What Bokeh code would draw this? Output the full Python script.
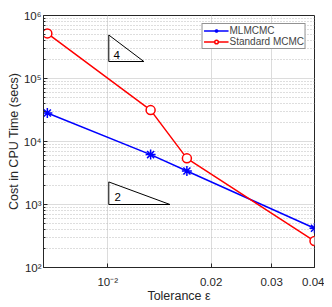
from bokeh.plotting import figure
from bokeh.models import FixedTicker, Range1d, Label
from bokeh.embed import file_html
from bokeh.resources import INLINE

# ---- data ----
tol = [0.00667, 0.01333, 0.017, 0.04]
cost_mlmcmc = [2.83e4, 6.2e3, 3.4e3, 420]
cost_mcmc = [5.2e5, 3.15e4, 5.4e3, 263]

x_ticks = [0.01, 0.02, 0.03, 0.04]
x_tick_labels = ["10⁻²", "0.02", "0.03", "0.04"]
y_ticks = [100, 1000, 10000, 100000, 1000000]
y_tick_labels = ["10²", "10³", "10⁴", "10⁵", "10⁶"]
y_minor = [k * 10 ** e for e in range(2, 6) for k in range(2, 10)]

# slope triangles (annotations)
tri4_x = [0.01007, 0.01007, 0.01274]
tri4_y = [4.9e5, 1.86e5, 1.86e5]
tri4_label = ("4", 0.01062, 2.38e5)
tri2_x = [0.01007, 0.01007, 0.01518]
tri2_y = [2280, 1000, 1000]
tri2_label = ("2", 0.01069, 1333)

FONT = "Liberation Sans"
DARK = "#262626"

p = figure(x_axis_type="log", y_axis_type="log",
           width=324, height=305,
           min_border_left=43, min_border_right=10,
           min_border_top=15, min_border_bottom=33,
           x_range=Range1d(0.0065, 0.04), y_range=Range1d(1e2, 1e6),
           output_backend="svg", toolbar_location=None)

p.outline_line_color = DARK
p.outline_line_width = 1

p.xaxis.ticker = FixedTicker(ticks=x_ticks, minor_ticks=[])
p.yaxis.ticker = FixedTicker(ticks=y_ticks, minor_ticks=y_minor)
p.xaxis.major_label_overrides = dict(zip(x_ticks, x_tick_labels))
p.yaxis.major_label_overrides = dict(zip(y_ticks, y_tick_labels))

for ax in (p.xaxis[0], p.yaxis[0]):
    ax.axis_line_color = DARK
    ax.major_tick_line_color = DARK
    ax.minor_tick_line_color = DARK
    ax.major_tick_in = 4
    ax.major_tick_out = 0
    ax.minor_tick_in = 2
    ax.minor_tick_out = 0
    ax.major_label_text_font = FONT
    ax.major_label_text_font_size = "11.5px"
    ax.major_label_text_color = DARK
    ax.axis_label_text_font = FONT
    ax.axis_label_text_font_size = "12.5px"
    ax.axis_label_text_font_style = "normal"
    ax.axis_label_text_color = DARK

p.xaxis.major_label_standoff = 8
p.xaxis.axis_label_standoff = -2
p.yaxis.major_label_standoff = 2
p.yaxis.axis_label_standoff = 0

p.xaxis.axis_label = "Tolerance ε"
p.yaxis.axis_label = "Cost in CPU Time (secs)"

# grids
for g in (p.xgrid[0], p.ygrid[0]):
    g.grid_line_color = "#dcdcdc"
    g.grid_line_width = 1
p.ygrid.minor_grid_line_color = "#bdbdbd"
p.ygrid.minor_grid_line_dash = "1 2"
p.ygrid.minor_grid_line_width = 1

# triangles
p.patch(tri4_x, tri4_y, fill_color=None, line_color="black", line_width=1)
p.patch(tri2_x, tri2_y, fill_color=None, line_color="black", line_width=1)
for txt, lx, ly in (tri4_label, tri2_label):
    p.add_layout(Label(x=lx, y=ly, text=txt, text_font=FONT, text_font_size="11.5px",
                       text_align="center", text_baseline="middle", text_color="black"))

# series
p.line(tol, cost_mlmcmc, line_color="blue", line_width=1.5, legend_label="MLMCMC")
p.scatter(tol, cost_mlmcmc, marker="asterisk", size=10, line_color="blue",
          line_width=1.5, legend_label="MLMCMC")
p.line(tol, cost_mcmc, line_color="red", line_width=1.5, legend_label="Standard MCMC")
p.scatter(tol, cost_mcmc, marker="circle", size=9, line_color="red", fill_color="white",
          line_width=1.5, legend_label="Standard MCMC")

lg = p.legend[0]
lg.location = "top_right"
lg.margin = 8
lg.padding = 1
lg.spacing = -1
lg.label_text_font = FONT
lg.label_text_font_size = "10px"
lg.label_height = 9
lg.glyph_height = 9
lg.glyph_width = 25
lg.label_standoff = 1
lg.border_line_color = DARK
lg.border_line_width = 1
lg.background_fill_alpha = 1
lg.label_text_line_height = 1.0

open("out.html", "w").write(file_html(p, INLINE))
